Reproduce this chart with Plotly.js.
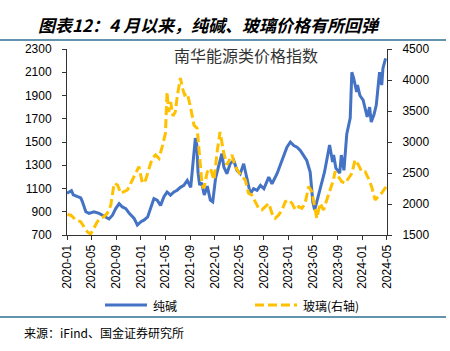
<!DOCTYPE html>
<html>
<head>
<meta charset="utf-8">
<script src="https://cdn.plot.ly/plotly-3.0.1.min.js"></script>
<style>html,body{margin:0;padding:0;background:#fff;}#chart{width:450px;height:351px;}</style>
</head>
<body>
<div id="chart"></div>
<script>
// 纯碱 (left axis)
const sodaDates = ['2020-01-01','2020-01-23','2020-02-01','2020-02-22','2020-03-09','2020-03-17','2020-04-03','2020-04-19','2020-05-13','2020-06-08','2020-06-24','2020-07-10','2020-07-27','2020-08-13','2020-08-29','2020-09-15','2020-10-01','2020-10-18','2020-11-04','2020-11-28','2020-12-14','2021-01-01','2021-01-17','2021-02-03','2021-02-18','2021-03-06','2021-03-22','2021-04-08','2021-04-24','2021-05-10','2021-05-27','2021-06-13','2021-06-29','2021-07-15','2021-08-01','2021-08-18','2021-09-04','2021-09-15','2021-09-27','2021-10-04','2021-10-10','2021-10-18','2021-10-28','2021-11-10','2021-11-25','2021-12-10','2021-12-22','2022-01-05','2022-01-20','2022-02-05','2022-02-15','2022-03-02','2022-03-18','2022-04-05','2022-04-21','2022-05-07','2022-05-24','2022-06-09','2022-06-26','2022-07-12','2022-07-29','2022-08-15','2022-09-01','2022-09-25','2022-10-11','2022-11-05','2022-11-21','2022-12-08','2022-12-24','2023-01-10','2023-01-27','2023-02-12','2023-02-28','2023-03-16','2023-04-01','2023-04-18','2023-05-01','2023-05-10','2023-05-20','2023-06-05','2023-06-28','2023-07-23','2023-08-07','2023-08-12','2023-08-23','2023-09-11','2023-09-19','2023-10-02','2023-10-16','2023-11-02','2023-11-10','2023-11-19','2023-12-04','2023-12-08','2023-12-20','2024-01-05','2024-01-13','2024-01-25','2024-02-06','2024-02-14','2024-02-27','2024-03-10','2024-03-26','2024-04-06','2024-04-12','2024-04-25','2024-05-01'];
const sodaValues = [1059,1081,1045,1030,1020,987,900,886,900,886,870,850,838,870,927,970,941,927,886,843,786,815,830,855,927,1013,1000,955,1027,1070,1043,1070,1085,1110,1127,1170,1110,1300,1534,1474,1242,1130,1150,1044,1120,1000,985,1190,1300,1400,1284,1227,1313,1341,1256,1227,1313,1198,1055,1098,1084,1127,1098,1198,1141,1227,1299,1370,1456,1500,1470,1456,1428,1385,1341,1242,984,915,984,1070,1242,1474,1328,1388,1276,1233,1388,1256,1570,1706,2100,2050,1930,1990,1900,1860,1790,1715,1800,1672,1732,1818,2100,1990,2135,2220];

// 玻璃 (right axis)
const glassDates = ['2020-01-03','2020-01-20','2020-02-14','2020-03-09','2020-03-25','2020-04-11','2020-04-27','2020-05-13','2020-05-30','2020-06-16','2020-07-02','2020-07-18','2020-08-05','2020-08-21','2020-09-07','2020-09-23','2020-10-09','2020-10-26','2020-11-11','2020-12-06','2020-12-22','2021-01-08','2021-01-24','2021-02-10','2021-02-26','2021-03-14','2021-03-31','2021-04-16','2021-05-02','2021-05-10','2021-05-18','2021-05-28','2021-06-08','2021-06-20','2021-06-29','2021-07-15','2021-07-25','2021-08-05','2021-08-18','2021-09-04','2021-09-20','2021-10-06','2021-10-14','2021-10-22','2021-10-30','2021-11-08','2021-11-25','2021-12-11','2021-12-28','2022-01-14','2022-01-27','2022-02-15','2022-03-02','2022-03-27','2022-04-12','2022-04-28','2022-05-15','2022-06-01','2022-06-17','2022-07-03','2022-07-20','2022-08-06','2022-08-22','2022-09-08','2022-09-25','2022-10-11','2022-10-27','2022-11-13','2022-11-30','2022-12-16','2023-01-02','2023-01-18','2023-02-04','2023-02-20','2023-03-08','2023-03-24','2023-04-10','2023-04-26','2023-05-12','2023-05-21','2023-06-06','2023-06-23','2023-07-09','2023-07-25','2023-08-11','2023-08-19','2023-09-05','2023-09-21','2023-10-08','2023-10-24','2023-11-10','2023-11-26','2023-12-13','2023-12-29','2024-01-15','2024-01-31','2024-02-16','2024-03-04','2024-03-20','2024-04-05','2024-04-22','2024-05-01'];
const glassValues = [1830,1820,1742,1715,1634,1550,1515,1608,1715,1770,1796,1850,1984,2334,2307,2173,2200,2226,2334,2495,2603,2334,2388,2576,2737,2791,2737,2925,3140,3806,3484,3645,3420,3489,3731,4032,3871,3758,3785,3548,3274,3220,2951,2629,2306,2254,2516,2576,2388,2871,3161,2818,2630,2791,2603,2522,2442,2388,2173,2146,2038,1930,1904,1957,2011,1850,1770,1823,1904,2038,2065,2011,1904,1957,1930,2011,2280,2200,1957,1770,2011,1904,2065,2226,2388,2522,2442,2361,2334,2415,2495,2710,2630,2522,2522,2415,2280,2065,2119,2173,2254,2280];

const leftTicks = [700,900,1100,1300,1500,1700,1900,2100,2300];
const rightTicks = [1500,2000,2500,3000,3500,4000,4500];
const seriesNames = ['纯碱','玻璃(右轴)'];
const chartTitle = '图表12：4 月以来，纯碱、玻璃价格有所回弹';
const innerTitle = '南华能源类价格指数';
const sourceText = '来源：iFind、国金证券研究所';

const BLUE = '#4472C4', YELLOW = '#FFC000', RULE = '#2F6F93';
const CJK = '"Noto Sans CJK SC", "Noto Sans", sans-serif';
const NUM = '"Liberation Sans", Arial, sans-serif';

// pixel -> paper helpers (plot area: x 67..387, y 49..235)
const px = x => (x - 67) / 320;
const py = y => (235 - y) / 186;

const traces = [
  {x: sodaDates, y: sodaValues, name: seriesNames[0], type: 'scatter', mode: 'lines',
   line: {color: BLUE, width: 3}, yaxis: 'y', showlegend: false},
  {x: glassDates, y: glassValues, name: seriesNames[1], type: 'scatter', mode: 'lines',
   line: {color: YELLOW, width: 3, dash: '9px,4px'}, yaxis: 'y2', showlegend: false}
];

const layout = {
  width: 450, height: 351,
  margin: {l: 67, r: 63, t: 49, b: 116},
  paper_bgcolor: '#fff', plot_bgcolor: '#fff',
  title: {text: chartTitle, x: 38/450, xanchor: 'left', xref: 'container', y: 1 - 26/351, yanchor: 'middle', yref: 'container',
          font: {family: CJK, size: 17, color: '#000', weight: 'bold', style: 'italic'}},
  xaxis: {type: 'date', range: ['2020-01-01', '2024-05-02'], tick0: '2020-01-01', dtick: 'M4', tickformat: '%Y-%m',
          tickangle: -90, ticks: 'outside', ticklen: 4, tickcolor: '#333', showline: true, linecolor: '#333', linewidth: 1,
          showgrid: false, zeroline: false, tickfont: {family: NUM, size: 12, color: '#000'}},
  yaxis: {range: [700, 2300], tickvals: leftTicks, ticks: 'outside', ticklen: 4, tickcolor: '#333', showline: true, linecolor: '#333',
          showgrid: false, zeroline: false, tickfont: {family: NUM, size: 12, color: '#000'}, ticklabelstandoff: 8},
  yaxis2: {range: [1500, 4500], tickvals: rightTicks, overlaying: 'y', side: 'right', ticks: 'outside', ticklen: 4, tickcolor: '#333',
           showline: true, linecolor: '#333', showgrid: false, zeroline: false, tickfont: {family: NUM, size: 12, color: '#000'}, ticklabelstandoff: 8},
  shapes: [
    {type: 'line', xref: 'paper', yref: 'paper', x0: px(0), x1: px(446), y0: py(40), y1: py(40), line: {color: RULE, width: 1.5}},
    {type: 'line', xref: 'paper', yref: 'paper', x0: px(0), x1: px(446), y0: py(317), y1: py(317), line: {color: RULE, width: 1.5}},
    {type: 'line', xref: 'paper', yref: 'paper', x0: px(105), x1: px(147), y0: py(305), y1: py(305), line: {color: BLUE, width: 3}},
    {type: 'line', xref: 'paper', yref: 'paper', x0: px(255), x1: px(297), y0: py(305), y1: py(305), line: {color: YELLOW, width: 3, dash: '9px,4px'}}
  ],
  annotations: [
    {text: innerTitle, xref: 'paper', yref: 'paper', x: px(246), y: py(55), xanchor: 'center', yanchor: 'middle', showarrow: false,
     font: {family: CJK, size: 16, color: '#333'}},
    {text: seriesNames[0], xref: 'paper', yref: 'paper', x: px(151), y: py(305), xanchor: 'left', yanchor: 'middle', showarrow: false,
     font: {family: CJK, size: 12, color: '#000'}},
    {text: seriesNames[1], xref: 'paper', yref: 'paper', x: px(301), y: py(305), xanchor: 'left', yanchor: 'middle', showarrow: false,
     font: {family: CJK, size: 12, color: '#000'}},
    {text: sourceText, xref: 'paper', yref: 'paper', x: px(22), y: py(332), xanchor: 'left', yanchor: 'middle', showarrow: false,
     font: {family: CJK, size: 12, color: '#000'}}
  ]
};

Plotly.newPlot('chart', traces, layout, {displayModeBar: false, staticPlot: true});
</script>
</body>
</html>
